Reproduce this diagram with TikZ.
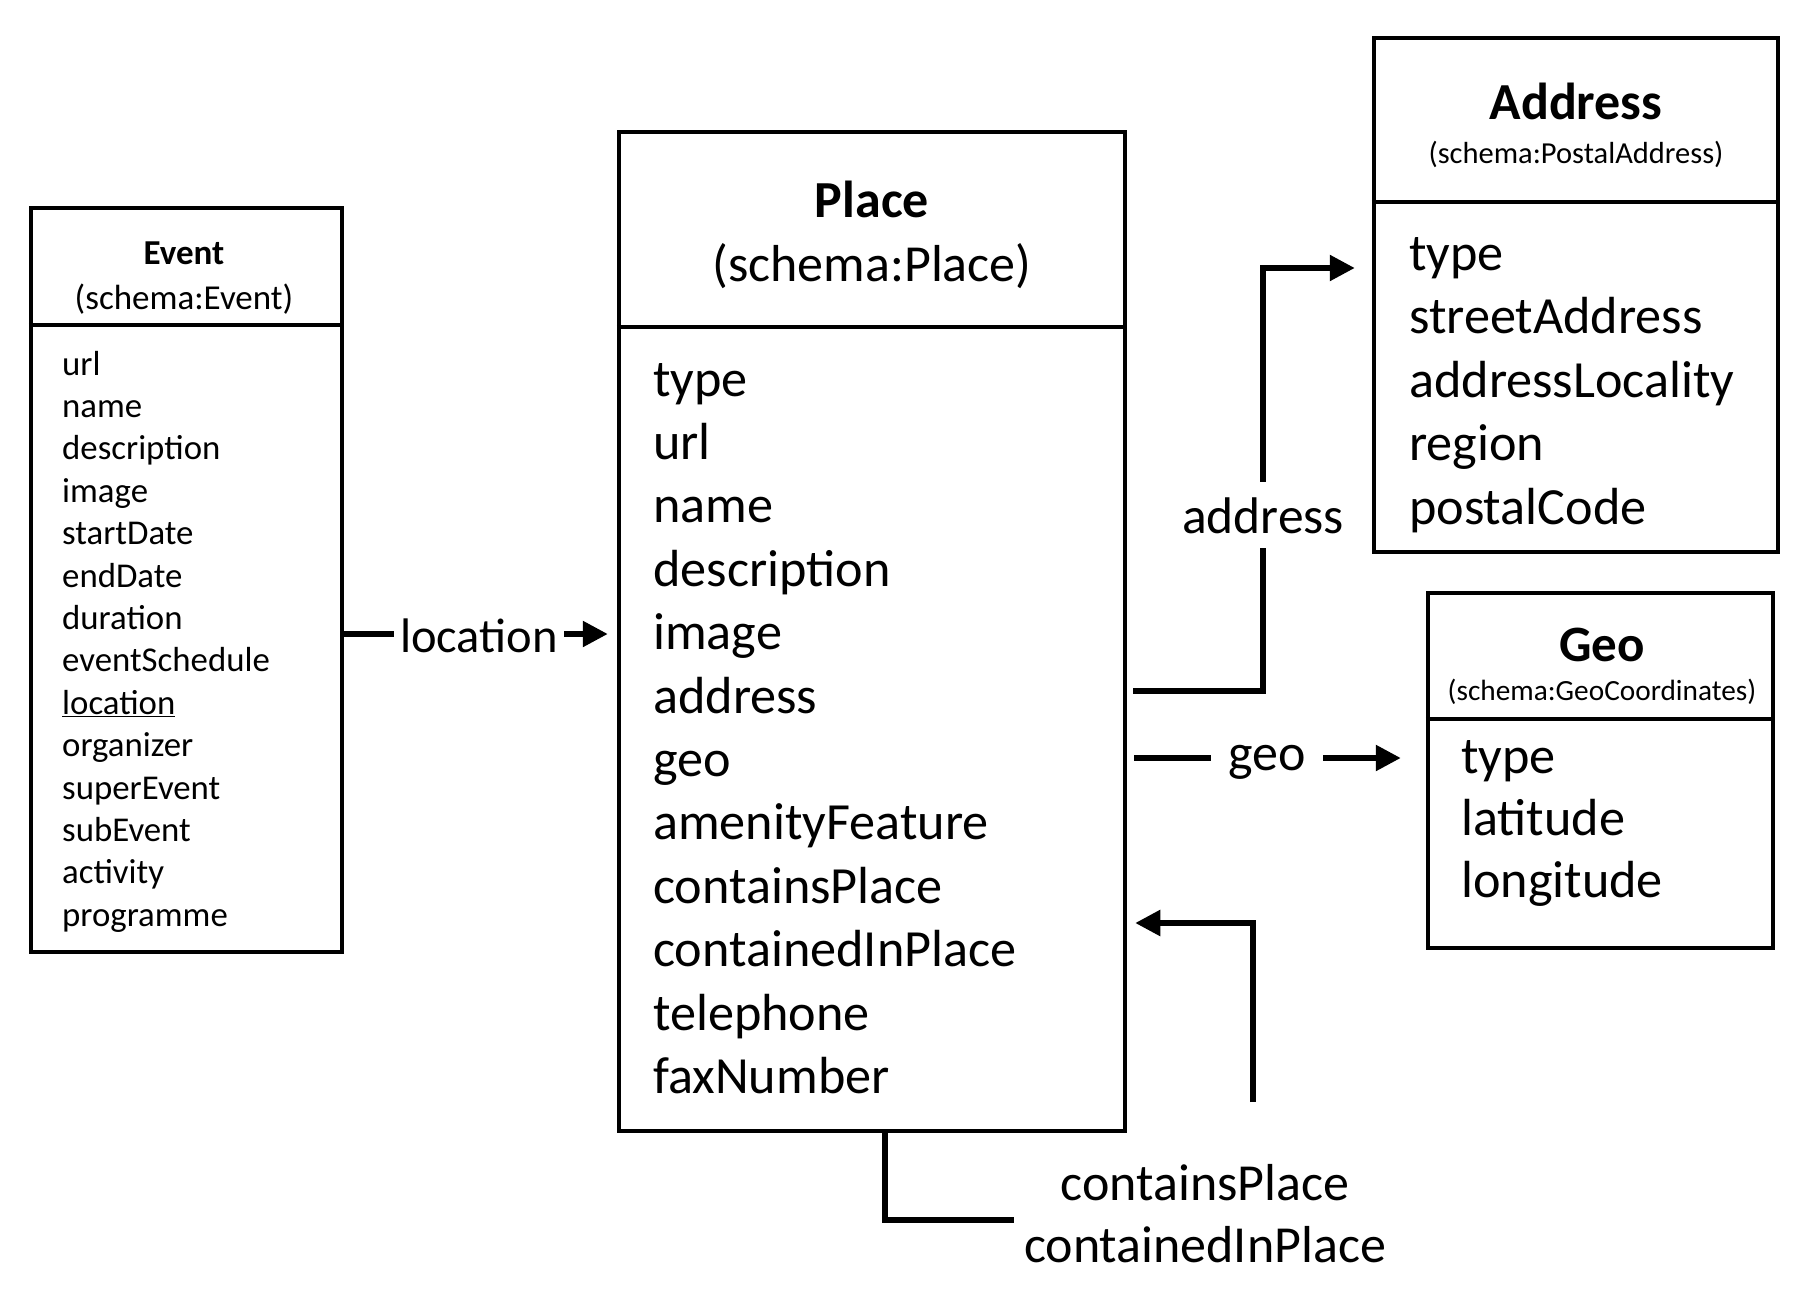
\documentclass[tikz,border=0pt]{standalone}
\usepackage{fontspec}
\setmainfont{Carlito}
\usetikzlibrary{arrows.meta}
\newcommand\fsz[1]{\fontsize{#1pt}{#1pt}\selectfont}
\begin{document}
\begin{tikzpicture}[x=1pt,y=-1pt,
  box/.style={draw, line width=4.5pt, inner sep=0pt},
  divider/.style={line width=4.5pt},
  conn/.style={line width=5.5pt, -{Triangle[length=25pt,width=25pt]}},
  plainconn/.style={line width=5.5pt},
  txt/.style={anchor=base west, inner sep=0pt},
  ctxt/.style={anchor=base, inner sep=0pt},
  lbl/.style={anchor=base, fill=white, inner ysep=4pt, inner xsep=6pt},
]
\useasboundingbox (0,0) rectangle (1800,1314);

% ---------- boxes ----------
\node[box, minimum width=311pt, minimum height=744pt] (event) at (186.5,580) {};
\draw[divider] (event.west |- 0,325) -- (event.east |- 0,325);

\node[box, minimum width=506pt, minimum height=999pt] (place) at (872,631.5) {};
\draw[divider] (place.west |- 0,327) -- (place.east |- 0,327);

\node[box, minimum width=404pt, minimum height=514pt] (address) at (1576,295) {};
\draw[divider] (address.west |- 0,202) -- (address.east |- 0,202);

\node[box, minimum width=345pt, minimum height=355pt] (geo) at (1600.5,770.5) {};
\draw[divider] (geo.west |- 0,719) -- (geo.east |- 0,719);

% ---------- headers ----------
\node[ctxt] (evtitle) at (184,264) {\fsz{35}\bfseries Event};
\node[ctxt] (evschema) at (184,309) {\fsz{35}(schema:Event)};

\node[ctxt] (pltitle) at (872,217) {\fsz{52}\bfseries Place};
\node[ctxt] (plschema) at (872,281) {\fsz{52}(schema:Place)};

\node[ctxt] (adtitle) at (1576,120) {\fsz{52}\bfseries Address};
\node[ctxt] (adschema) at (1576,163) {\fsz{30.5}(schema:PostalAddress)};

\node[ctxt] (geotitle) at (1602,661) {\fsz{51}\bfseries Geo};
\node[ctxt] (geoschema) at (1602,700) {\fsz{29.3}(schema:GeoCoordinates)};

% ---------- items ----------
\foreach \t [count=\i from 0] in {url,name,description,image,startDate,endDate,duration,eventSchedule,\underline{location},organizer,superEvent,subEvent,activity,programme}
  \node[txt] (ev\i) at (62,375+\i*42.4) {\fsz{34.8}\t};

\foreach \t [count=\i from 0] in {type,url,name,description,image,address,geo,amenityFeature,containsPlace,containedInPlace,telephone,faxNumber}
  \node[txt] (pl\i) at (653,396+\i*63.4) {\fsz{52.2}\t};

\foreach \t [count=\i from 0] in {type,streetAddress,addressLocality,region,postalCode}
  \node[txt] (ad\i) at (1409,270+\i*63.6) {\fsz{52.2}\t};

\foreach \t [count=\i from 0] in {type,latitude,longitude}
  \node[txt] (ge\i) at (1461,773+\i*62.3) {\fsz{52.2}\t};

% ---------- connectors ----------
% location
\draw[conn] (event.east |- 0,634) -- ([xshift=-9pt]place.west |- 0,634);
\node[lbl, inner xsep=6pt] (loclbl) at (479,652) {\fsz{48.5}location};

% address
\draw[conn] ([xshift=6pt]place.east |- 0,691) -| (1263,268) -- ([xshift=-17pt]address.west |- 0,268);
\node[lbl, inner ysep=15pt, inner xsep=2pt] (adlbl) at (1263,533) {\fsz{51.5}address};

% geo
\draw[conn] ([xshift=7pt]place.east |- 0,758) -- ([xshift=-25pt]geo.west |- 0,758);
\node[lbl, inner xsep=17pt] (geolbl) at (1267,770) {\fsz{52}geo};

% containsPlace / containedInPlace
\coordinate (cpend) at (1014,1220);
\coordinate (cpstart) at (1253,1102);
\draw[plainconn] (place.south -| 885,0) |- (cpend);
\draw[conn] (cpstart) |- ([xshift=8pt]place.east |- 0,923);
\node[ctxt] (cplbl1) at (1205,1200) {\fsz{52}containsPlace};
\node[ctxt] (cplbl2) at (1205,1262) {\fsz{52}containedInPlace};
\end{tikzpicture}
\end{document}
